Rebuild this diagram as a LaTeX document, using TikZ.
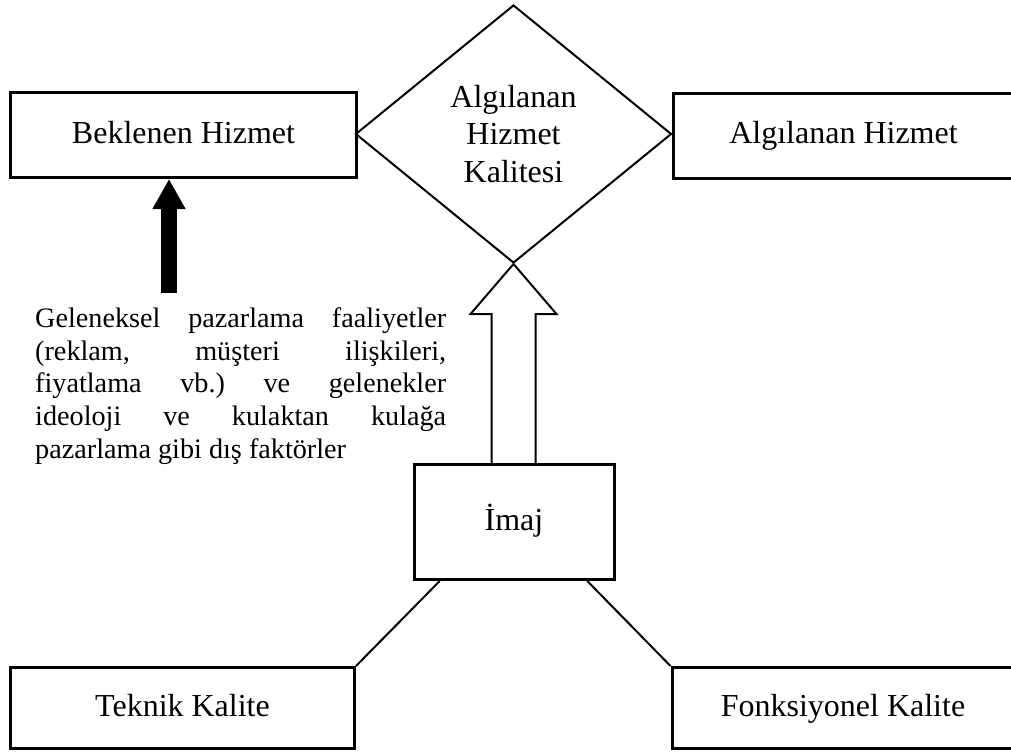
\documentclass[tikz,border=0pt]{standalone}
\usepackage{fontspec}
\setmainfont{Liberation Serif}
\usetikzlibrary{shapes.geometric,arrows.meta,calc}
\begin{document}
\begin{tikzpicture}[x=1pt,y=-1pt,
  box/.style={draw, line width=3pt, inner sep=0pt, text height=22pt, text depth=6pt,
              font=\fontsize{32}{37.5}\selectfont},
  thinline/.style={line width=2pt, line join=miter},
  para/.style={anchor=base west, inner sep=0pt, font=\fontsize{28.2}{32.7}\selectfont}]
\useasboundingbox (0,0) rectangle (1011,753);

% central decision shape
\node[draw, thinline, shape=diamond, minimum width=316pt, minimum height=258pt,
      inner sep=0pt, align=center, font=\fontsize{32}{37.5}\selectfont]
      (dia) at (513.5,134) {Algılanan\\Hizmet\\Kalitesi};

% boxes
\node[box, minimum width=346pt, minimum height=85pt] (bek) at (183.5,135) {Beklenen Hizmet};
\node[box, minimum width=341pt, minimum height=85pt] (alg) at (843.5,135.5) {Algılanan Hizmet};
\node[box, minimum width=200pt, minimum height=115pt] (img) at (514,522) {İmaj};
\node[box, minimum width=344pt, minimum height=81pt] (tek) at (182.5,708) {Teknik Kalite};
\node[box, minimum width=342pt, minimum height=81pt] (fon) at (843,708) {Fonksiyonel Kalite};

% external factors text
\node[para] (p1) at (35,327) {\hbox to 411pt{Geleneksel\hfill pazarlama\hfill faaliyetler}};
\node[para] (p2) at (35,360) {\hbox to 411pt{(reklam,\hfill müşteri\hfill ilişkileri,}};
\node[para] (p3) at (35,392) {\hbox to 411pt{fiyatlama\hfill vb.)\hfill ve\hfill gelenekler}};
\node[para] (p4) at (35,425) {\hbox to 411pt{ideoloji\hfill ve\hfill kulaktan\hfill kulağa}};
\node[para] (p5) at (35,458) {pazarlama gibi dış faktörler};

% solid arrow into expected service
\coordinate (tail) at (169,293);
\draw[line width=16pt, -{Triangle[width=31pt,length=30pt]}] (tail) -- (tail |- bek.south);

% hollow arrow from image to perceived quality
\coordinate (sl) at ($(dia.south)+(-22,50)$);
\coordinate (sr) at ($(dia.south)+(22,50)$);
\coordinate (hl) at ($(dia.south)+(-43,50)$);
\coordinate (hr) at ($(dia.south)+(43,50)$);
\draw[thinline] (sl |- img.north) -- (sl) -- (hl) -- (dia.south) -- (hr) -- (sr) -- (sr |- img.north);

% links from the quality dimensions to image
\draw[thinline] ($(img.south west)!0.134!(img.south east)$) -- (tek.north east);
\draw[thinline] ($(img.south west)!0.861!(img.south east)$) -- (fon.north west);
\end{tikzpicture}
\end{document}
